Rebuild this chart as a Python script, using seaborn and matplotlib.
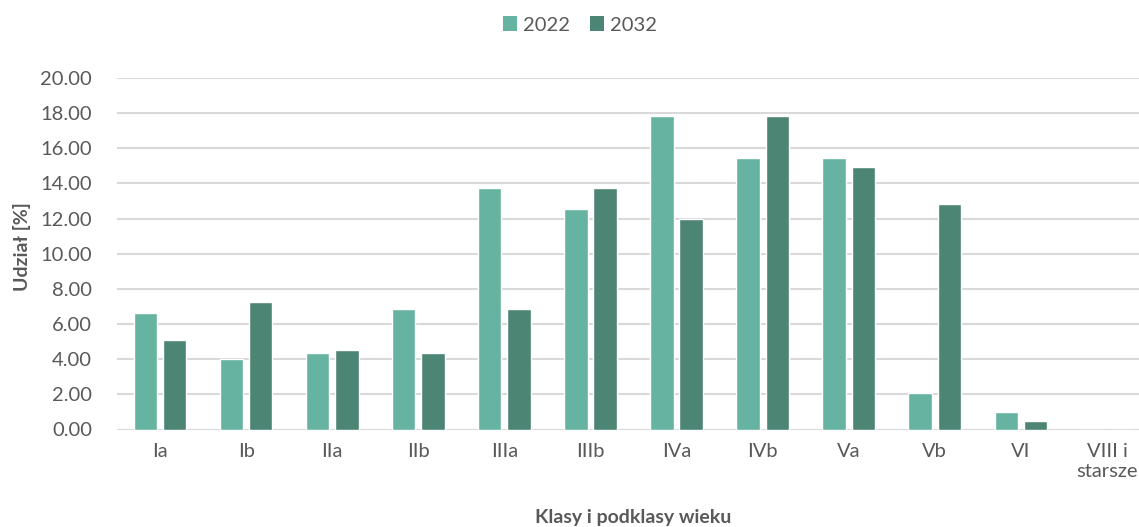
import matplotlib
matplotlib.use("Agg")
import matplotlib.pyplot as plt
import seaborn as sns
import pandas as pd
from matplotlib.patches import Patch

categories = ["Ia", "Ib", "IIa", "IIb", "IIIa", "IIIb", "IVa", "IVb", "Va", "Vb", "VI", "VIII i\nstarsze"]
values_2022 = [6.64, 4.00, 4.33, 6.85, 13.73, 12.54, 17.83, 15.46, 15.42, 2.05, 0.97, 0.0]
values_2032 = [5.11, 7.23, 4.50, 4.33, 6.85, 13.75, 11.99, 17.85, 14.93, 12.81, 0.49, 0.0]
series = ["2022", "2032"]
yticks = [0, 2, 4, 6, 8, 10, 12, 14, 16, 18, 20]

df = pd.DataFrame({
    "cat": categories * 2,
    "val": values_2022 + values_2032,
    "year": [series[0]] * len(categories) + [series[1]] * len(categories),
})

colors = {"2022": "#66B3A1", "2032": "#4D8574"}
txt = "#595959"

sns.set_style("white")
plt.rcParams["font.family"] = ["Lato", "DejaVu Sans"]

fig = plt.figure(figsize=(11.39, 5.27), dpi=100)
ax = fig.add_axes([117 / 1139, 1 - 429.5 / 527, 1033 / 1139, 351.5 / 527])

sns.barplot(data=df, x="cat", y="val", hue="year", palette=colors, ax=ax,
            width=0.68, gap=0.2, legend=False, saturation=1, zorder=3)

ax.set_ylim(0, 20)
ax.set_xlim(-0.5, len(categories) - 0.5)
ax.set_yticks(yticks)
ax.set_yticklabels([f"{v:.2f}" for v in yticks])
ax.grid(axis="y", color="#D9D9D9", linewidth=1.5, zorder=0)
ax.set_axisbelow(True)
for s in ["top", "right", "left", "bottom"]:
    ax.spines[s].set_visible(False)
ax.axhline(0, color="#D9D9D9", linewidth=1.5, zorder=1)
ax.tick_params(axis="both", length=0, labelsize=14.5, labelcolor=txt)
ax.tick_params(axis="x", pad=10)
ax.tick_params(axis="y", pad=18)

ax.set_ylabel("Udział [%]", fontsize=14, fontweight="bold", color=txt)
ax.yaxis.set_label_coords(-0.083, 0.52)
ax.set_xlabel("Klasy i podklasy wieku", fontsize=14, fontweight="bold", color=txt)
ax.xaxis.set_label_coords((633 - 117) / 1033, -(517 - 429.5) / 351.5)
ax.xaxis.label.set_verticalalignment("center")

handles = [Patch(facecolor=colors[s], edgecolor="none") for s in series]
fig.legend(handles, series, loc="center", bbox_to_anchor=(580 / 1139, 1 - 25 / 527), ncol=2,
           frameon=False, fontsize=14.5, handlelength=0.7, handleheight=0.7,
           handletextpad=0.3, columnspacing=1.0, labelcolor=txt,
           borderpad=0, borderaxespad=0)

fig.savefig("out.png", dpi=100)
